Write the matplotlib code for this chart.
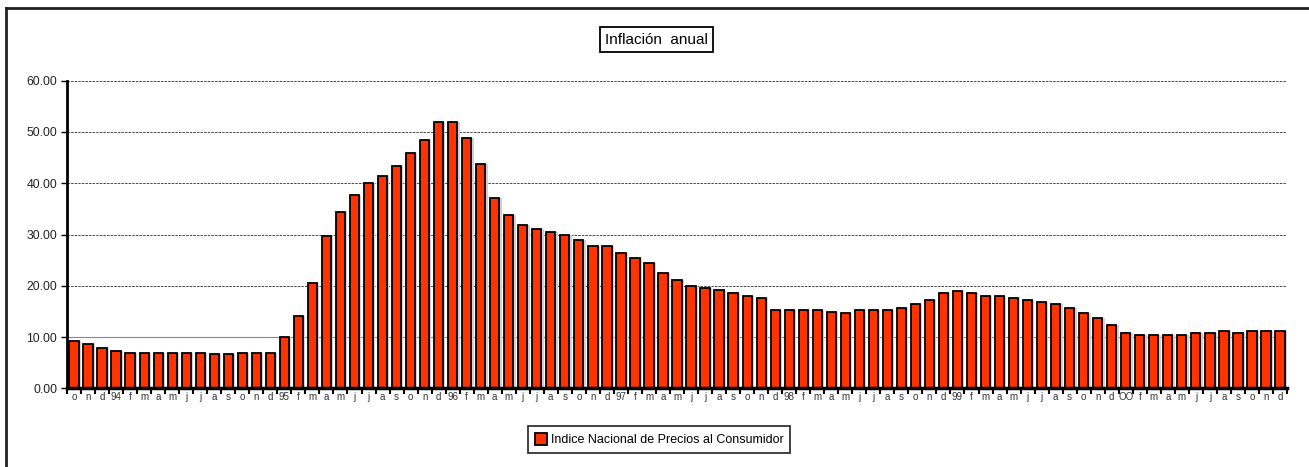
import matplotlib
matplotlib.use("Agg")
import matplotlib.pyplot as plt
from matplotlib.lines import Line2D

plt.rcParams['font.family'] = ['Liberation Sans', 'DejaVu Sans']

# Etiquetas de meses (oct 1993 - dic 2000)
meses = ['o', 'n', 'd',
         '94', 'f', 'm', 'a', 'm', 'j', 'j', 'a', 's', 'o', 'n', 'd',
         '95', 'f', 'm', 'a', 'm', 'j', 'j', 'a', 's', 'o', 'n', 'd',
         '96', 'f', 'm', 'a', 'm', 'j', 'j', 'a', 's', 'o', 'n', 'd',
         '97', 'f', 'm', 'a', 'm', 'j', 'j', 'a', 's', 'o', 'n', 'd',
         '98', 'f', 'm', 'a', 'm', 'j', 'j', 'a', 's', 'o', 'n', 'd',
         '99', 'f', 'm', 'a', 'm', 'j', 'j', 'a', 's', 'o', 'n', 'd',
         'OO', 'f', 'm', 'a', 'm', 'j', 'j', 'a', 's', 'o', 'n', 'd']

# Inflación anual (%)
inpc_93 = [9.3, 8.6, 7.8]
inpc_94 = [7.35, 6.96, 6.96, 6.96, 6.96, 6.96, 6.96, 6.63, 6.63, 6.96, 6.96, 6.96]
inpc_95 = [10.1, 14.2, 20.5, 29.7, 34.3, 37.7, 40.0, 41.5, 43.4, 45.8, 48.5, 51.95]
inpc_96 = [51.95, 48.9, 43.8, 37.1, 33.9, 31.9, 31.1, 30.4, 30.0, 28.9, 27.7, 27.7]
inpc_97 = [26.3, 25.5, 24.4, 22.4, 21.2, 20.0, 19.6, 19.2, 18.5, 18.1, 17.7, 15.3]
inpc_98 = [15.3, 15.3, 15.3, 14.95, 14.6, 15.3, 15.3, 15.3, 15.7, 16.5, 17.3, 18.5]
inpc_99 = [18.9, 18.5, 18.1, 18.1, 17.7, 17.3, 16.9, 16.5, 15.7, 14.6, 13.8, 12.35]
inpc_00 = [10.8, 10.4, 10.4, 10.4, 10.4, 10.8, 10.8, 11.2, 10.8, 11.2, 11.2, 11.2]

inpc = inpc_93 + inpc_94 + inpc_95 + inpc_96 + inpc_97 + inpc_98 + inpc_99 + inpc_00
x = list(range(len(inpc)))

fig = plt.figure(figsize=(13.09, 4.67), dpi=100)
ax = fig.add_axes([0.0512, 0.1685, 0.932, 0.6587])

# líneas de la cuadrícula
for v in [20, 30, 40, 50, 60]:
    ax.axhline(v, color='#444444', lw=0.7, ls=(0, (2.5, 1.2)), zorder=0)
ax.axhline(10, color='#888888', lw=0.8, zorder=0)

# sombra y barras
ax.bar([i + 0.16 for i in x], inpc, width=0.66, color='#d0d0d0', zorder=1)
barras = ax.bar(x, inpc, width=0.66, color='#ff3300', edgecolor='black',
                linewidth=1.3, zorder=2, label='Indice Nacional de Precios al Consumidor')

ax.set_xlim(-0.5, len(inpc) - 0.5)
ax.set_ylim(0, 60)
ax.set_yticks([0, 10, 20, 30, 40, 50, 60])
ax.set_yticklabels(['%.2f' % v for v in [0, 10, 20, 30, 40, 50, 60]], fontsize=8.8, color='#222222')
ax.tick_params(axis='y', length=4, width=1, pad=3)

ax.set_xticks(x)
ax.set_xticklabels(meses, fontsize=7, color='#333333')
ax.tick_params(axis='x', which='major', length=0, pad=3)
ax.set_xticks([i - 0.5 for i in range(len(inpc) + 1)], minor=True)
ax.tick_params(axis='x', which='minor', length=4, width=1.5, color='black')

for lado in ['top', 'right']:
    ax.spines[lado].set_visible(False)
ax.spines['left'].set_linewidth(2)
ax.spines['bottom'].set_linewidth(2.5)

# título en recuadro
fig.text(0.5015, 0.915, 'Inflación  anual', ha='center', va='center', fontsize=11,
         bbox=dict(boxstyle='square,pad=0.35', fc='white', ec='black', lw=1.3))

# leyenda
leg = fig.legend(handles=[barras], loc='center', bbox_to_anchor=(0.5035, 0.0585), fontsize=9,
                 frameon=True, fancybox=False, edgecolor='black', handlelength=1.0,
                 handleheight=1.1, handletextpad=0.3, borderpad=0.55)
leg.get_frame().set_linewidth(1.3)

# marco exterior (izquierda y arriba)
fig.add_artist(Line2D([6 / 1309, 6 / 1309], [0, 1 - 8 / 467], color='#222222', lw=2))
fig.add_artist(Line2D([6 / 1309, 1], [1 - 8 / 467, 1 - 8 / 467], color='#222222', lw=2))

fig.savefig('out.png', dpi=100)
